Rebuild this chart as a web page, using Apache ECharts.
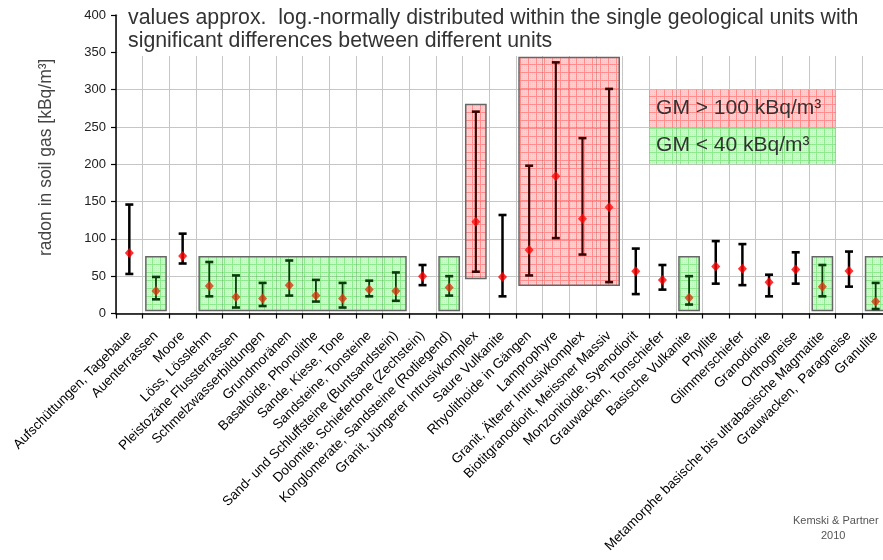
<!DOCTYPE html>
<html>
<head>
<meta charset="utf-8">
<script src="https://cdn.jsdelivr.net/npm/echarts@6/dist/echarts.min.js"></script>
<style>html,body{margin:0;padding:0;background:#fff;overflow:hidden}#c{width:883px;height:560px}</style>
</head>
<body>
<div id="c"></div>
<script>
const categories = ['Aufschüttungen, Tagebaue','Auenterrassen','Moore','Löss, Lösslehm','Pleistozäne Flussterrassen','Schmelzwasserbildungen','Grundmoränen','Basaltoide, Phonolithe','Sande, Kiese, Tone','Sandsteine, Tonsteine','Sand- und Schluffsteine (Buntsandstein)','Dolomite, Schiefertone (Zechstein)','Konglomerate, Sandsteine (Rotliegend)','Granit, Jüngerer Intrusivkomplex','Saure Vulkanite','Rhyolithoide in Gängen','Lamprophyre','Granit, Älterer Intrusivkomplex','Biotitgranodiorit, Meissner Massiv','Monzonitoide, Syenodiorit','Grauwacken,  Tonschiefer','Basische Vulkanite','Phyllite','Glimmerschiefer','Granodiorite','Orthogneise','Metamorphe basische bis ultrabasische Magmatite','Grauwacken,  Paragneise','Granulite'];
const lows  = [53,19,67,23,8,10,24,16,8,23,17,38,24,56,23,51,101,79,42,26,32,12,40,38,23,40,23,36,6];
const means = [81,30,77,37,22,20,38,24,20,32,30,50,35,123,49,85,184,127,142.5,56.5,45,21,63,60,42,59,36,57,16];
const highs = [146,49,107,69,51,41,71,45,41,44,55,65,50,270.5,132,198,336.5,235,301,87,65,50,97,93,52,82,65,83,41];
// classification: n = normal, g = GM < 40, r = GM > 100
const groups = ['n','g','n','g','g','g','g','g','g','g','g','n','g','r','n','r','r','r','r','n','n','g','n','n','n','n','g','n','g'];
// highlighted group frames: first index, last index, low, high, kind
const boxFirst = [1,3,12,13,15,21,26,28];
const boxLast  = [1,10,12,13,18,21,26,28];
const boxLow   = [4,4,4,47,38,4,4,4];
const boxHigh  = [76,76,76,280,343,76,76,76];
const boxKind  = ['g','g','g','r','r','g','g','g'];
// key boxes
const keyLabels = ['GM > 100 kBq/m³','GM < 40 kBq/m³'];
const keyFirst = [20,20];
const keyLast = [26,26];
const keyLow = [250,200];
const keyHigh = [300,250];
const keyKind = ['r','g'];

function makePattern(kind){
  const cv = document.createElement('canvas');
  cv.width = 8; cv.height = 8;
  const ctx = cv.getContext('2d');
  const base = kind==='r' ? 'rgba(255,40,40,0.22)' : 'rgba(40,235,40,0.24)';
  const line = kind==='r' ? 'rgba(255,30,30,0.35)' : 'rgba(20,200,20,0.30)';
  const dot = kind==='r' ? 'rgba(255,60,60,0.10)' : 'rgba(40,200,40,0.10)';
  ctx.fillStyle = base; ctx.fillRect(0,0,8,8);
  ctx.fillStyle = dot;
  for(let i=0;i<8;i+=2){for(let j=0;j<8;j+=2){ctx.fillRect(i,j,1,1);}}
  ctx.fillStyle = line;
  ctx.fillRect(0,0,8,1); ctx.fillRect(0,1,1,7);
  return {image: cv, repeat: 'repeat'};
}
const patterns = {r: makePattern('r'), g: makePattern('g')};
const barColor = {n:'#000000', g:'#0b3a0b', r:'#3a0505'};
const barWidth = {n:2.5, g:1.8, r:2.2};
const dotColor = {n:'#ff0000', g:'#d43a10', r:'#ff0a0a'};

const chart = echarts.init(document.getElementById('c'));
const font = '"Liberation Sans", Arial, sans-serif';

chart.setOption({
  animation:false,
  backgroundColor:'#fff',
  grid:{left:116, width:773, top:15, height:298.5, containLabel:false, outerBoundsMode:'none'},
  xAxis:{
    type:'category', data:categories, boundaryGap:true,
    axisLine:{lineStyle:{color:'#000', width:1.5}},
    axisTick:{show:true, length:5, lineStyle:{color:'#000', width:1.2}},
    axisLabel:{interval:0, rotate:45, fontSize:13.5, color:'#000', fontFamily:font, margin:20},
    splitLine:{show:true, interval:0, lineStyle:{color:'#c6c6c6', width:1}}
  },
  yAxis:{
    type:'value', min:0, max:400, interval:50,
    name:'radon in soil gas [kBq/m³]', nameLocation:'middle', nameGap:61,
    nameTextStyle:{fontSize:17.5, color:'#444', fontFamily:font, padding:[0,0,0,14]},
    axisLine:{show:true, lineStyle:{color:'#000', width:1.5}},
    axisTick:{show:true, length:5, lineStyle:{color:'#000', width:1.2}},
    axisLabel:{fontSize:13, color:'#222', fontFamily:font, margin:10},
    splitLine:{show:true, lineStyle:{color:'#c6c6c6', width:1}}
  },
  graphic:[
    {type:'rect', shape:{x:117.5, y:0, width:770, height:56}, style:{fill:'#fff'}, z:100},
    {type:'text', left:128, top:7, z:101, style:{text:'values approx.  log.-normally distributed within the single geological units with\nsignificant differences between different units', font:'21.3px '+font, fill:'#333', lineHeight:23}},
    {type:'text', left:793, top:515, z:101, style:{text:'Kemski & Partner', font:'11px '+font, fill:'#555'}},
    {type:'text', left:821, top:530, z:101, style:{text:'2010', font:'11px '+font, fill:'#555'}}
  ],
  series:[
    {
      type:'custom', name:'frames', z:1,
      data: boxFirst.map((f,k)=>[f, boxLast[k], boxLow[k], boxHigh[k]]),
      encode:{x:[0,1], y:[2,3]},
      renderItem:function(params, api){
        const k = params.dataIndex;
        const bw = api.size([1,0])[0];
        const a = api.coord([api.value(0), api.value(3)]);
        const b = api.coord([api.value(1), api.value(2)]);
        const x0 = a[0]-bw*0.38, x1 = b[0]+bw*0.38;
        return {type:'rect', shape:{x:x0, y:a[1], width:x1-x0, height:b[1]-a[1]},
          style:{fill:patterns[boxKind[k]], stroke:'#666', lineWidth:1.5}};
      }
    },
    {
      type:'custom', name:'key', z:1,
      data: keyFirst.map((f,k)=>[f, keyLast[k], keyLow[k], keyHigh[k]]),
      encode:{x:[0,1], y:[2,3]},
      renderItem:function(params, api){
        const k = params.dataIndex;
        const bw = api.size([1,0])[0];
        const a = api.coord([api.value(0), api.value(3)]);
        const b = api.coord([api.value(1), api.value(2)]);
        const x0 = a[0]-bw*0.5, x1 = b[0]+bw*0.5;
        return {type:'group', children:[
          {type:'rect', shape:{x:x0, y:a[1], width:x1-x0, height:b[1]-a[1]},
            style:{fill:patterns[keyKind[k]]}},
          {type:'text', x:x0+7, y:(a[1]+b[1])/2, style:{text:keyLabels[k], font:'21px '+font, fill:'#333', verticalAlign:'middle'}}
        ]};
      }
    },
    {
      type:'custom', name:'range', z:3,
      data: categories.map((c,i)=>[i, lows[i], highs[i]]),
      encode:{x:0, y:[1,2]},
      renderItem:function(params, api){
        const i = params.dataIndex;
        const g = groups[i];
        const t = api.coord([api.value(0), api.value(2)]);
        const b = api.coord([api.value(0), api.value(1)]);
        const st = {stroke:barColor[g], lineWidth:barWidth[g]};
        const cst = {stroke:barColor[g], lineWidth:2.6};
        const h = 4;
        return {type:'group', children:[
          {type:'line', shape:{x1:t[0], y1:t[1], x2:b[0], y2:b[1]}, style:st},
          {type:'line', shape:{x1:t[0]-h, y1:t[1], x2:t[0]+h, y2:t[1]}, style:cst},
          {type:'line', shape:{x1:b[0]-h, y1:b[1], x2:b[0]+h, y2:b[1]}, style:cst}
        ]};
      }
    },
    {
      type:'scatter', name:'GM', z:4, symbol:'diamond', symbolSize:[9,10],
      data: categories.map((c,i)=>({value:[i, means[i]], itemStyle:{color:dotColor[groups[i]]}}))
    }
  ]
});
</script>
</body>
</html>
